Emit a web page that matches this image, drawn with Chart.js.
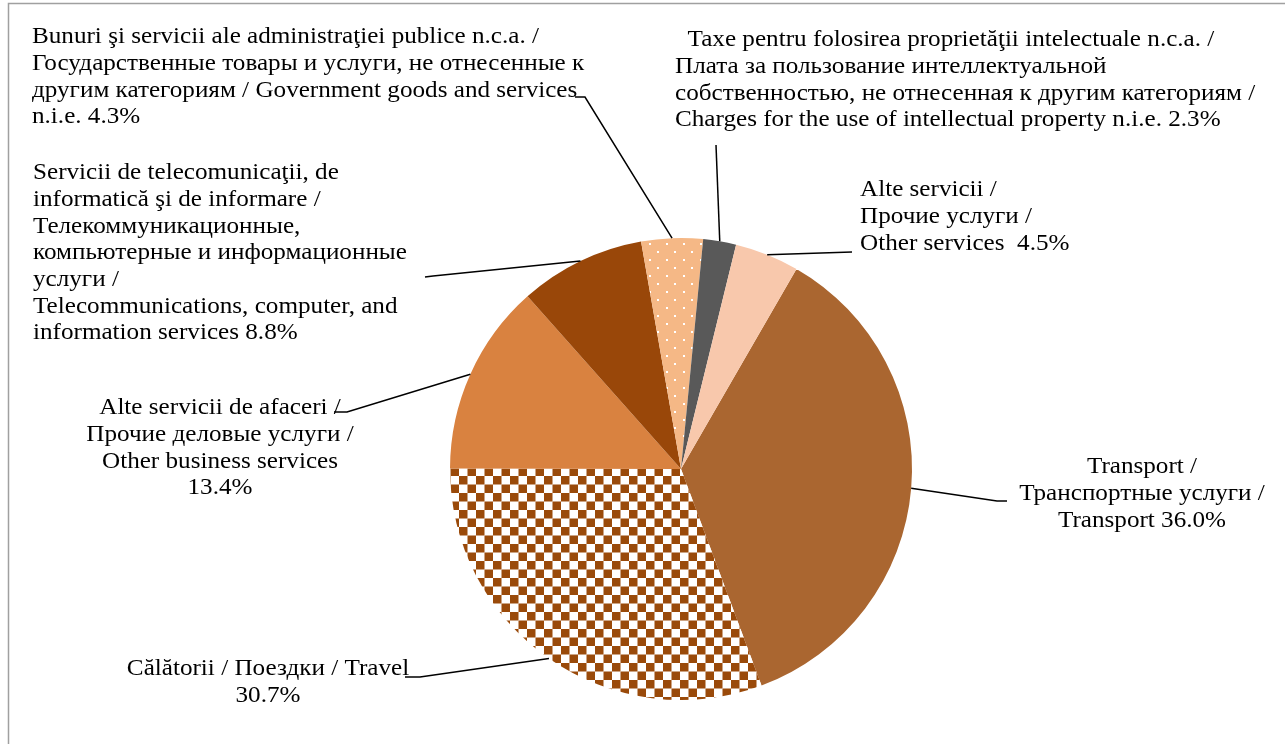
<!DOCTYPE html>
<html>
<head>
<meta charset="utf-8">
<script src="https://cdn.jsdelivr.net/npm/chart.js@4"></script>
<style>
  body { margin: 0; background: #fff; }
  canvas { display: block; }
</style>
</head>
<body>
<canvas id="pieChart" width="1285" height="744"></canvas>
<script>
// categories (multi-line, %v = the share)
let categories = [
  ['Transport /', 'Транспортные услуги /', 'Transport %v'],
  ['Călătorii / Поездки / Travel', '%v'],
  ['Alte servicii de afaceri /', 'Прочие деловые услуги /', 'Other business services', '%v'],
  ['Servicii de telecomunicaţii, de', 'informatică şi de informare /', 'Телекоммуникационные,', 'компьютерные и информационные', 'услуги /', 'Telecommunications, computer, and', 'information services %v'],
  ['Bunuri şi servicii ale administraţiei publice n.c.a. /', 'Государственные товары и услуги, не отнесенные к', 'другим категориям / Government goods and services', 'n.i.e. %v'],
  ['  Taxe pentru folosirea proprietăţii intelectuale n.c.a. /', 'Плата за пользование интеллектуальной', 'собственностью, не отнесенная к другим категориям /', 'Charges for the use of intellectual property n.i.e. %v'],
  ['Alte servicii /', 'Прочие услуги /', 'Other services  %v']
];
let shares = [36.0, 30.7, 13.4, 8.8, 4.3, 2.3, 4.5];

let ctx = document.getElementById('pieChart').getContext('2d');

function checker(color) {
  let c = document.createElement('canvas');
  c.width = 17; c.height = 17;
  let g = c.getContext('2d');
  g.fillStyle = '#fff';
  g.fillRect(0, 0, 17, 17);
  g.fillStyle = color;
  g.fillRect(0, 0, 8.5, 8.5);
  g.fillRect(8.5, 8.5, 8.5, 8.5);
  return ctx.createPattern(c, 'repeat');
}

function dots(color) {
  let c = document.createElement('canvas');
  c.width = 17; c.height = 16;
  let g = c.getContext('2d');
  g.fillStyle = color;
  g.fillRect(0, 0, 17, 16);
  g.fillStyle = '#fff';
  g.fillRect(3, 3, 2, 2);
  g.fillRect(11, 11, 2, 2);
  return ctx.createPattern(c, 'repeat');
}

let colors = ['#aa6630', checker('#9a4a0a'), '#d98240', '#994709', dots('#f5b886'), '#595959', '#f8c8ac'];

// label placement: anchor x, first line y, alignment, leader points (label side)
let labelLayout = [
  { x: 1142, y: 467, align: 'center', lead: [[997, 501], [1007, 501]] },
  { x: 268, y: 669, align: 'center', lead: [[420, 677], [405, 677]] },
  { x: 220, y: 408, align: 'center', lead: [[347, 412], [334, 412]] },
  { x: 33, y: 173, align: 'left', lead: [[433, 276], [425, 277]] },
  { x: 32, y: 37, align: 'left', lead: [[585, 97], [575, 97]] },
  { x: 675, y: 40, align: 'left', lead: [[716, 145]] },
  { x: 860, y: 190, align: 'left', lead: [[852, 252]] }
];

let labelPlugin = {
  id: 'labels',
  beforeDraw(chart) {
    let c = chart.ctx;
    c.save();
    c.strokeStyle = '#a0a0a0';
    c.lineWidth = 1.5;
    c.strokeRect(8.5, 3.5, 1300, 800);
    c.restore();
  },
  afterDraw(chart) {
    let c = chart.ctx;
    let meta = chart.getDatasetMeta(0);
    c.save();
    c.font = '23.5px "Liberation Serif"';
    c.fillStyle = '#000';
    c.textBaseline = 'middle';
    c.strokeStyle = '#000';
    c.lineWidth = 1.5;
    meta.data.forEach((arc, i) => {
      let mid = (arc.startAngle + arc.endAngle) / 2;
      let px = arc.x + Math.cos(mid) * arc.outerRadius;
      let py = arc.y + Math.sin(mid) * arc.outerRadius;
      let L = labelLayout[i];
      c.beginPath();
      c.moveTo(px, py);
      L.lead.forEach(p => c.lineTo(p[0], p[1]));
      c.stroke();
      c.textAlign = L.align;
      let pct = shares[i].toFixed(1) + '%';
      categories[i].forEach((line, j) => {
        c.save();
        c.translate(L.x, L.y + j * 26.7);
        c.scale(1.07, 1);
        c.fillText(line.replace('%v', pct), 0, 0);
        c.restore();
      });
    });
    c.restore();
  }
};

new Chart(ctx, {
  type: 'pie',
  data: {
    labels: categories.map(l => l.join(' ')),
    datasets: [{
      data: shares,
      backgroundColor: colors,
      borderWidth: 0
    }]
  },
  options: {
    responsive: false,
    animation: false,
    events: [],
    rotation: 30,
    layout: { padding: { left: 450, right: 373, top: 238, bottom: 44 } },
    plugins: {
      legend: { display: false },
      tooltip: { enabled: false }
    }
  },
  plugins: [labelPlugin]
});
</script>
</body>
</html>
